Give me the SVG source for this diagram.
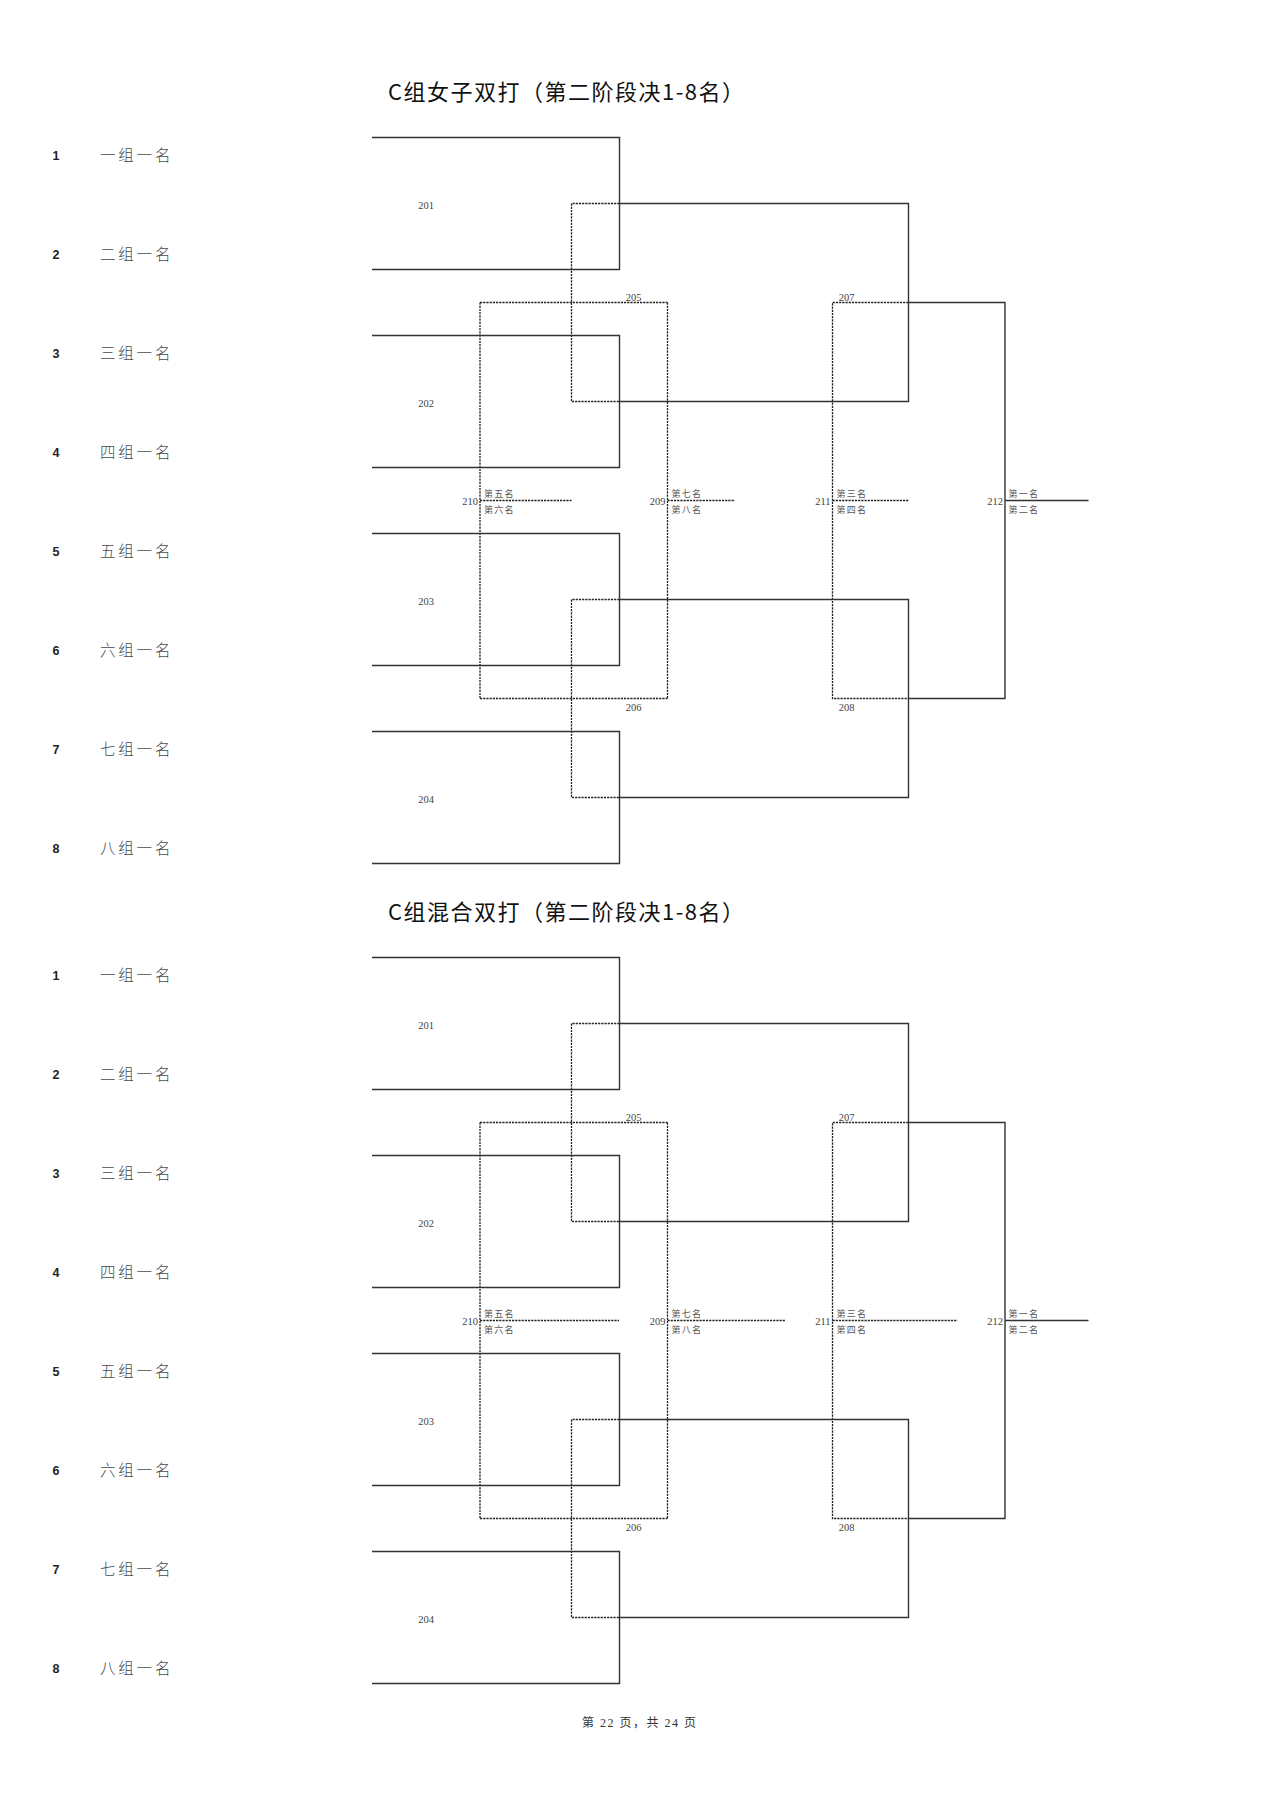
<svg xmlns="http://www.w3.org/2000/svg" width="1280" height="1810" viewBox="0 0 1280 1810">
<style>
.bg{fill:#ffffff}
.title{font-family:"Noto Sans CJK SC","Liberation Sans",sans-serif;font-size:22px;font-weight:400;fill:#111}
.seed{font-family:"Liberation Sans",Arial,sans-serif;font-size:12.5px;font-weight:bold;fill:#222;text-anchor:middle}
.team{font-family:"Noto Sans CJK SC",sans-serif;font-size:15.5px;font-weight:300;fill:#4a4a4a;letter-spacing:2.8px}
.num{font-family:"Liberation Serif","Noto Sans CJK SC",serif;font-size:10.5px;fill:#444}
.mid{text-anchor:middle}
.end{text-anchor:end}
.rank{font-family:"Noto Sans CJK SC",serif;font-size:9px;fill:#555;letter-spacing:1.3px}
.solid{fill:none;stroke:#333;stroke-width:1.4}
.dash{fill:none;stroke:#222;stroke-width:1.3;stroke-dasharray:2.2 1}
.foot{font-family:"Liberation Serif","Noto Sans CJK SC",serif;font-size:12px;fill:#333;text-anchor:middle}
</style>
<rect class="bg" x="0" y="0" width="1280" height="1810"/>

<!-- ================= Bracket 1 ================= -->
<g id="bracket1">
  <text id="title1" class="title" x="388" y="100" textLength="356" lengthAdjust="spacing">C组女子双打（第二阶段决1-8名）</text>
  <g id="b1-entries">
    <g id="b1-e1"><text class="seed" x="56" y="159.5">1</text><text class="team" x="100" y="160.5">一组一名</text></g>
    <g id="b1-e2"><text class="seed" x="56" y="258.6">2</text><text class="team" x="100" y="259.6">二组一名</text></g>
    <g id="b1-e3"><text class="seed" x="56" y="357.7">3</text><text class="team" x="100" y="358.7">三组一名</text></g>
    <g id="b1-e4"><text class="seed" x="56" y="456.8">4</text><text class="team" x="100" y="457.8">四组一名</text></g>
    <g id="b1-e5"><text class="seed" x="56" y="555.9">5</text><text class="team" x="100" y="556.9">五组一名</text></g>
    <g id="b1-e6"><text class="seed" x="56" y="655.0">6</text><text class="team" x="100" y="656.0">六组一名</text></g>
    <g id="b1-e7"><text class="seed" x="56" y="754.1">7</text><text class="team" x="100" y="755.1">七组一名</text></g>
    <g id="b1-e8"><text class="seed" x="56" y="853.2">8</text><text class="team" x="100" y="854.2">八组一名</text></g>
  </g>
  <g id="b1-connectors">
    <path class="dash" d="M619.5 203.5 H571.5 V401.5 H619.5 M480 302.5 H667.5"/>
    <path class="dash" d="M619.5 599.5 H571.5 V797.5 H619.5 M480 698.5 H667.5"/>
    <path class="dash" d="M480 302.5 V698.5 M480 500.5 H571.5"/>
    <path class="dash" d="M667.5 302.5 V698.5 M667.5 500.5 H735"/>
    <path class="dash" d="M908.5 302.5 H832.5 V698.5 H908.5 M832.5 500.5 H908.5"/>
    <path class="solid" d="M372 137.5 H619.5 V269.5 H372"/>
    <path class="solid" d="M372 335.5 H619.5 V467.5 H372"/>
    <path class="solid" d="M372 533.5 H619.5 V665.5 H372"/>
    <path class="solid" d="M372 731.5 H619.5 V863.5 H372"/>
    <path class="solid" d="M619.5 203.5 H908.5 V401.5 H619.5"/>
    <path class="solid" d="M619.5 599.5 H908.5 V797.5 H619.5"/>
    <path class="solid" d="M908.5 302.5 H1005 V698.5 H908.5 M1005 500.5 H1088.5"/>
  </g>
  <g id="b1-m201"><text class="num mid" x="426" y="208.5">201</text></g>
  <g id="b1-m202"><text class="num mid" x="426" y="406.5">202</text></g>
  <g id="b1-m203"><text class="num mid" x="426" y="604.5">203</text></g>
  <g id="b1-m204"><text class="num mid" x="426" y="802.5">204</text></g>
  <g id="b1-m205"><text class="num mid" x="633.5" y="300.5">205</text></g>
  <g id="b1-m206"><text class="num mid" x="633.5" y="711">206</text></g>
  <g id="b1-m207"><text class="num mid" x="846.5" y="300.5">207</text></g>
  <g id="b1-m208"><text class="num mid" x="846.5" y="711">208</text></g>
  <g id="b1-m210"><text class="num end" x="478" y="504.5">210</text><text class="rank" x="484" y="497">第五名</text><text class="rank" x="484" y="513">第六名</text></g>
  <g id="b1-m209"><text class="num end" x="665.5" y="504.5">209</text><text class="rank" x="671.5" y="497">第七名</text><text class="rank" x="671.5" y="513">第八名</text></g>
  <g id="b1-m211"><text class="num end" x="830.5" y="504.5">211</text><text class="rank" x="836.5" y="497">第三名</text><text class="rank" x="836.5" y="513">第四名</text></g>
  <g id="b1-m212"><text class="num end" x="1003" y="504.5">212</text><text class="rank" x="1008.5" y="497">第一名</text><text class="rank" x="1008.5" y="513">第二名</text></g>
</g>

<!-- ================= Bracket 2 ================= -->
<g id="bracket2" transform="translate(0,820)">
  <text id="title2" class="title" x="388" y="100" textLength="356" lengthAdjust="spacing">C组混合双打（第二阶段决1-8名）</text>
  <g id="b2-entries">
    <g id="b2-e1"><text class="seed" x="56" y="159.5">1</text><text class="team" x="100" y="160.5">一组一名</text></g>
    <g id="b2-e2"><text class="seed" x="56" y="258.6">2</text><text class="team" x="100" y="259.6">二组一名</text></g>
    <g id="b2-e3"><text class="seed" x="56" y="357.7">3</text><text class="team" x="100" y="358.7">三组一名</text></g>
    <g id="b2-e4"><text class="seed" x="56" y="456.8">4</text><text class="team" x="100" y="457.8">四组一名</text></g>
    <g id="b2-e5"><text class="seed" x="56" y="555.9">5</text><text class="team" x="100" y="556.9">五组一名</text></g>
    <g id="b2-e6"><text class="seed" x="56" y="655.0">6</text><text class="team" x="100" y="656.0">六组一名</text></g>
    <g id="b2-e7"><text class="seed" x="56" y="754.1">7</text><text class="team" x="100" y="755.1">七组一名</text></g>
    <g id="b2-e8"><text class="seed" x="56" y="853.2">8</text><text class="team" x="100" y="854.2">八组一名</text></g>
  </g>
  <g id="b2-connectors">
    <path class="dash" d="M619.5 203.5 H571.5 V401.5 H619.5 M480 302.5 H667.5"/>
    <path class="dash" d="M619.5 599.5 H571.5 V797.5 H619.5 M480 698.5 H667.5"/>
    <path class="dash" d="M480 302.5 V698.5 M480 500.5 H619"/>
    <path class="dash" d="M667.5 302.5 V698.5 M667.5 500.5 H785"/>
    <path class="dash" d="M908.5 302.5 H832.5 V698.5 H908.5 M832.5 500.5 H957.5"/>
    <path class="solid" d="M372 137.5 H619.5 V269.5 H372"/>
    <path class="solid" d="M372 335.5 H619.5 V467.5 H372"/>
    <path class="solid" d="M372 533.5 H619.5 V665.5 H372"/>
    <path class="solid" d="M372 731.5 H619.5 V863.5 H372"/>
    <path class="solid" d="M619.5 203.5 H908.5 V401.5 H619.5"/>
    <path class="solid" d="M619.5 599.5 H908.5 V797.5 H619.5"/>
    <path class="solid" d="M908.5 302.5 H1005 V698.5 H908.5 M1005 500.5 H1088.5"/>
  </g>
  <g id="b2-m201"><text class="num mid" x="426" y="208.5">201</text></g>
  <g id="b2-m202"><text class="num mid" x="426" y="406.5">202</text></g>
  <g id="b2-m203"><text class="num mid" x="426" y="604.5">203</text></g>
  <g id="b2-m204"><text class="num mid" x="426" y="802.5">204</text></g>
  <g id="b2-m205"><text class="num mid" x="633.5" y="300.5">205</text></g>
  <g id="b2-m206"><text class="num mid" x="633.5" y="711">206</text></g>
  <g id="b2-m207"><text class="num mid" x="846.5" y="300.5">207</text></g>
  <g id="b2-m208"><text class="num mid" x="846.5" y="711">208</text></g>
  <g id="b2-m210"><text class="num end" x="478" y="504.5">210</text><text class="rank" x="484" y="497">第五名</text><text class="rank" x="484" y="513">第六名</text></g>
  <g id="b2-m209"><text class="num end" x="665.5" y="504.5">209</text><text class="rank" x="671.5" y="497">第七名</text><text class="rank" x="671.5" y="513">第八名</text></g>
  <g id="b2-m211"><text class="num end" x="830.5" y="504.5">211</text><text class="rank" x="836.5" y="497">第三名</text><text class="rank" x="836.5" y="513">第四名</text></g>
  <g id="b2-m212"><text class="num end" x="1003" y="504.5">212</text><text class="rank" x="1008.5" y="497">第一名</text><text class="rank" x="1008.5" y="513">第二名</text></g>
</g>

<text id="footer" class="foot" x="639" y="1727" textLength="114" lengthAdjust="spacing">第 22 页，共 24 页</text>
</svg>
